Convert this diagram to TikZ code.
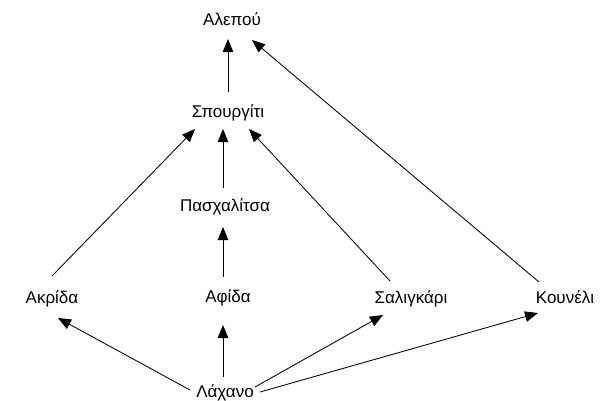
\documentclass[tikz,border=0pt]{standalone}
\usepackage{fontspec}
\setmainfont{Liberation Sans}
\usetikzlibrary{arrows.meta,calc}

\begin{document}
\begin{tikzpicture}[x=1pt,y=-1pt,
    species/.style={inner sep=0pt,anchor=base,font=\fontsize{17}{20}\selectfont},
    eats/.style={-{Triangle[length=13pt,width=10.5pt]},line width=0.85pt}]
  \useasboundingbox[fill=white] (0,0) rectangle (604,400);

  % food web members, placed by their baselines
  \node[species] (ale) at (232,25)  {Αλεπού};
  \node[species] (spo) at (228,117) {Σπουργίτι};
  \node[species] (pas) at (225,211) {Πασχαλίτσα};
  \node[species] (akr) at (52,303)  {Ακρίδα};
  \node[species] (afi) at (228,302) {Αφίδα};
  \node[species] (sal) at (411,303) {Σαλιγκάρι};
  \node[species] (kou) at (565,303) {Κουνέλι};
  \node[species] (lax) at (225,397) {Λάχανο};

  % energy flow: from the eaten to the eater
  \draw[eats] ($(spo.base)+(0,-25)$)   -- ($(ale.base)+(-4,14)$);
  \draw[eats] ($(kou.base)+(-26,-21)$) -- ($(ale.base)+(20,15)$);
  \draw[eats] ($(akr.base)+(0,-27)$)   -- ($(spo.base)+(-33,12)$);
  \draw[eats] ($(pas.base)+(-2,-23)$)  -- ($(spo.base)+(-5,12)$);
  \draw[eats] ($(sal.base)+(-21,-22)$) -- ($(spo.base)+(21,12)$);
  \draw[eats] ($(afi.base)+(-5,-25)$)  -- ($(pas.base)+(-2,16)$);
  \draw[eats] ($(lax.base)+(-35,-7)$)  -- ($(akr.base)+(6,15)$);
  \draw[eats] ($(lax.base)+(-2,-20)$)  -- ($(afi.base)+(-5,23)$);
  \draw[eats] ($(lax.base)+(30,-10)$)  -- ($(sal.base)+(-28,12)$);
  \draw[eats] ($(lax.base)+(35,-5)$)   -- ($(kou.base)+(-27,10)$);
\end{tikzpicture}
\end{document}
